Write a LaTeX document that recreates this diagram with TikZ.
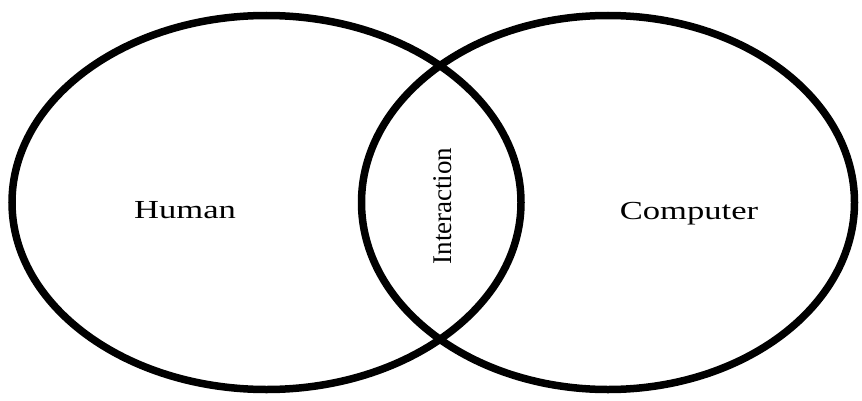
\documentclass[tikz,border=0pt]{standalone}
\usepackage{fontspec}
\setmainfont{Liberation Serif}
\usetikzlibrary{shapes.geometric}

\begin{document}
\begin{tikzpicture}[
  x=1pt, y=1pt,
  set/.style={draw, ellipse, line width=7.5pt, inner sep=0pt,
              minimum height=374pt},
  lbl/.style={font=\fontsize{26}{30}\selectfont, inner sep=0pt},
  wide/.style={xscale=1.33, transform shape}
]
  \useasboundingbox (0,0) rectangle (862,400);
  % the two sets
  \node[set, minimum width=509pt] (human)    at (266.5,197.5) {};
  \node[set, minimum width=493pt] (computer) at (608,197.5)   {};
  % labels
  \node[lbl, wide, anchor=base] (humanlbl)    at (185,182) {Human};
  \node[lbl, wide, anchor=base] (computerlbl) at (689,181) {Computer};
  \node[lbl, font=\fontsize{27}{30}\selectfont, rotate=90] (interlbl)
    at (443,194) {Interaction};
\end{tikzpicture}
\end{document}
